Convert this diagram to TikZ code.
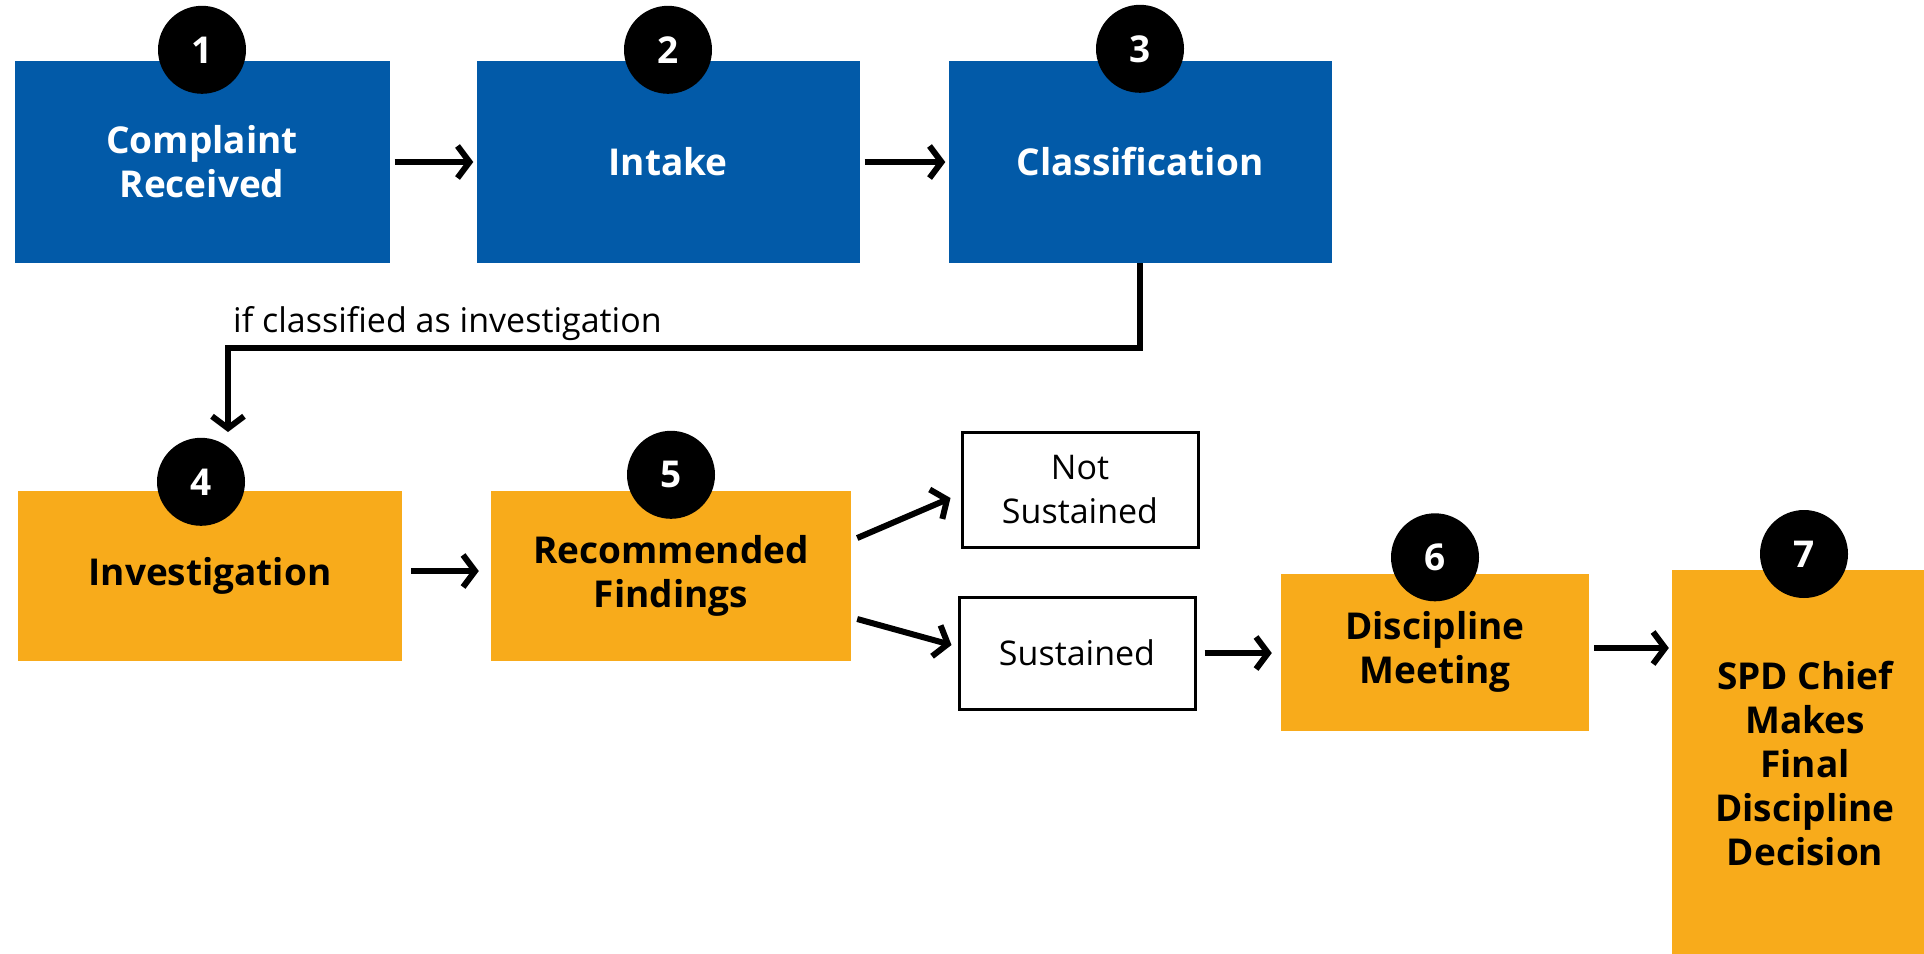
\documentclass[tikz,border=0pt]{standalone}
\usepackage{fontspec}
\setmainfont{Open Sans}
\usetikzlibrary{arrows.meta, positioning, calc}
\definecolor{spdblue}{RGB}{2,90,168}
\definecolor{spdorange}{RGB}{248,171,27}

\begin{document}
\begin{tikzpicture}[x=1pt, y=-1pt,
	bluebox/.style={fill=spdblue, text=white, inner sep=0pt, align=center, minimum height=202pt, font=\bfseries\fontsize{37}{44}\selectfont},
	orangebox/.style={fill=spdorange, text=black, inner sep=0pt, align=center, font=\bfseries\fontsize{37}{44}\selectfont},
	result/.style={draw, line width=3pt, inner sep=0pt, align=center, font=\fontsize{34}{44}\selectfont},
	num/.style={circle, fill=black, text=white, inner sep=0pt, minimum size=88pt, font=\bfseries\fontsize{37}{44}\selectfont},
	link/.style={line width=6pt, -{Straight Barb[length=12pt,width=32pt]}, shorten <=5pt, shorten >=3pt}]
	\useasboundingbox (0,0) rectangle (1924,953);
	% top row
	\node[bluebox, minimum width=375pt] (b1) at (202,162) {Complaint\\Received};
	\node[bluebox, minimum width=383pt] (b2) at (668,162) {Intake};
	\node[bluebox, minimum width=383pt] (b3) at (1140,162) {Classification};
	% bottom row
	\node[orangebox, minimum width=384pt, minimum height=170pt] (b4) at (210,576) {Investigation};
	\node[orangebox, minimum width=360pt, minimum height=170pt] (b5) at (671,576) {Recommended\\Findings};
	\node[result, minimum width=236pt, minimum height=115pt] (ns) at (1080,490) {Not\\Sustained};
	\node[result, minimum width=236pt, minimum height=112pt] (su) at (1077,653) {Sustained};
	\node[orangebox, minimum width=308pt, minimum height=157pt] (b6) at (1435,652) {Discipline\\Meeting};
	\node[orangebox, minimum width=264pt, minimum height=400pt, anchor=north] (b7) at (1804,570) {};
	\node[orangebox] (t7) at (1805,764) {SPD Chief\\Makes\\Final\\Discipline\\Decision};
	% numbers
	\node[num] (n1) at ([yshift=11pt]b1.north) {1};
	\node[num] (n2) at ([yshift=11pt]b2.north) {2};
	\node[num] (n3) at ([yshift=12pt]b3.north) {3};
	\node[num] (n4) at ([xshift=-9pt,yshift=9pt]b4.north) {4};
	\node[num] (n5) at ([yshift=16pt]b5.north) {5};
	\node[num] (n6) at ([yshift=16pt]b6.north) {6};
	\node[num] (n7) at ([yshift=16pt]b7.north) {7};
	% connectors
	\coordinate (turn) at (228,348);
	\coordinate (drop) at (228,432);
	\node[anchor=base west, inner sep=0pt, font=\fontsize{34}{44}\selectfont] (cond) at (233,332) {if classified as investigation};
	\draw[link] (b1.east) -- (b2.west);
	\draw[link] (b2.east) -- (b3.west);
	\draw[link, shorten <=0pt, shorten >=0pt] (b3.south) |- (turn) -- (drop);
	\draw[link, shorten <=9pt, shorten >=12pt] ([yshift=5pt]b4.east) -- ([yshift=5pt]b5.west);
	\draw[link, shorten <=0pt, shorten >=0pt] ([xshift=6pt,yshift=38pt]b5.east) -- ([xshift=-10pt,yshift=-8pt]ns.west);
	\draw[link, shorten <=0pt, shorten >=0pt] ([xshift=6pt,yshift=-43pt]b5.east) -- ([xshift=-6pt,yshift=8pt]su.west);
	\draw[link, shorten <=8pt, shorten >=9pt] (su.east) -- (su.east -| b6.west);
	\draw[link] ([yshift=4pt]b6.east) -- ([yshift=4pt]b6.east -| b7.west);
\end{tikzpicture}
\end{document}
